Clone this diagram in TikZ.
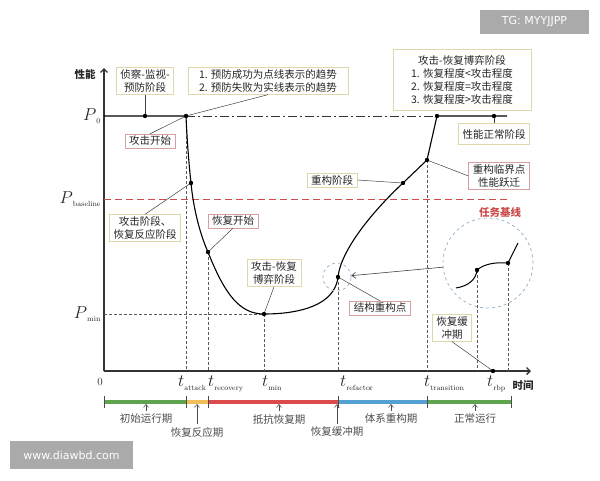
\documentclass[tikz,border=0pt]{standalone}
\usepackage{amsmath}
\usepackage{xcolor}
\usepackage{fontspec}
\usepackage{tikz}
\usetikzlibrary{arrows.meta}
\newfontfamily\cjk{Noto Sans CJK SC}
\newfontfamily\wmfont{DejaVu Sans}
\definecolor{boxyel}{RGB}{222,216,170}
\definecolor{boxpink}{RGB}{214,160,160}
\definecolor{basered}{RGB}{205,75,75}
\definecolor{ringblue}{RGB}{145,175,200}
\definecolor{tlgreen}{RGB}{95,165,80}
\definecolor{tlorange}{RGB}{240,190,90}
\definecolor{tlred}{RGB}{220,75,75}
\definecolor{tlblue}{RGB}{85,160,210}
\definecolor{wmgray}{RGB}{170,170,170}
\newcommand{\symsub}[2]{{\rmfamily\fontsize{16}{16}\selectfont$#1$\raisebox{-3.5pt}{\fontsize{7.5}{8}\selectfont #2}}}
\tikzset{
	ybox/.style={draw=boxyel, fill=white, line width=0.6pt, inner xsep=4pt, inner ysep=2pt, align=center},
	pbox/.style={ybox, draw=boxpink},
	lead/.style={black!75, line width=0.5pt},
	guide/.style={black!65, line width=0.6pt, dash pattern=on 3pt off 2pt},
	phase/.style={black!70, font=\cjk\fontsize{10.5}{12}\selectfont},
	boldcjk/.style={font=\cjk\bfseries\fontsize{10.5}{12}\selectfont},
	wmark/.style={fill=wmgray, text=white, font=\wmfont\fontsize{11}{12}\selectfont, inner sep=0pt}
}

\begin{document}
\begin{tikzpicture}[x=1pt, y=-1pt, font=\cjk\fontsize{10.5}{13}\selectfont, color=black!85]
	\useasboundingbox (0,0) rectangle (600,480);
	\coordinate (O) at (104,371);
	\coordinate (Ytop) at (104,68);
	\coordinate (Xend) at (531,371);
	\draw[line width=1.3pt, black!80, -{Straight Barb[length=3.5pt,width=7pt]}] (O) -- (Ytop);
	\draw[line width=1.3pt, black!80, -{Straight Barb[length=3.5pt,width=7pt]}] (O) -- (Xend);
	\node[boldcjk] (ylab) at (85,74) {性能};
	\node[boldcjk] (xlab) at (523,386) {时间};
	\node[font=\rmfamily\fontsize{11}{12}\selectfont] (zero) at (100,382) {0};

	\coordinate [label={left:\symsub{P}{0}}] (P0) at (104,116);
	\coordinate [label={left:\symsub{P}{baseline}}] (Pbase) at (104,199);
	\coordinate [label={left:\symsub{P}{min}}] (Pmin) at (104,314);
	\coordinate (baseend) at (507,199);
	\coordinate (normend) at (507,116);

	\coordinate (dwatch) at (145,116);
	\coordinate (dattack) at (186,116);
	\coordinate (dfall) at (191,183);
	\coordinate (drec) at (208,252);
	\coordinate (dmin) at (264,314);
	\coordinate (dref) at (338,277);
	\coordinate (drise) at (403,183);
	\coordinate (dtrans) at (427,160);
	\coordinate (dtop) at (437,116);
	\coordinate (dnorm) at (494,116);
	\coordinate (drbp) at (493,371);
	\coordinate (zstart) at (456,288);
	\coordinate (zone) at (477,270);
	\coordinate (ztwo) at (508,263);
	\coordinate (zend) at (518,243);

	\draw[basered, line width=0.8pt, dash pattern=on 7pt off 4pt] (Pbase) -- (baseend);
	\node[text=basered, boldcjk] (task) at (500,212) {任务基线};
	\draw[guide] (Pmin) -- (dmin);
	\foreach \d in {dattack, drec, dmin, dref, dtrans, zone, ztwo}
		\draw[guide] (\d) -- (\d |- O);
	\draw[black!80, line width=0.9pt, dash pattern=on 9pt off 3pt on 2pt off 3pt] (dattack) -- (dtop);

	\draw[line width=1.1pt, black] (P0) -- (dattack) .. controls (187,140) and (189,165) .. (dfall)
		.. controls (193,205) and (199,232) .. (drec) .. controls (225,295) and (240,314) .. (dmin)
		.. controls (300,314) and (335,305) .. (dref) .. controls (341,250) and (372,212) .. (drise)
		-- (dtrans) -- (dtop) -- (normend);
	\draw[line width=1pt, black] (zstart) .. controls (468,286) and (476,280) .. (zone)
		.. controls (484,264) and (495,262) .. (ztwo) -- (zend);

	\node[circle, draw=ringblue, dashed, line width=0.7pt, minimum size=90pt, inner sep=0pt] (zoomring) at (488,263) {};
	\node[circle, draw=ringblue, dashed, line width=0.7pt, minimum size=28pt, inner sep=0pt] (ring) at (337,277) {};
	\draw[black!75, line width=0.6pt, -{Straight Barb[length=4pt,width=6pt]}] (zoomring) -- (ring);

	\node[ybox] (watch) at (145,81) {侦察-监视-\\预防阶段};
	\node[ybox, minimum width=160pt] (note) at (268,81) {1. 预防成功为点线表示的趋势\\2. 预防失败为实线表示的趋势};
	\node[pbox] (start) at (150,141) {攻击开始};
	\node[ybox] (hit) at (145,228) {攻击阶段、\\恢复反应阶段};
	\node[pbox] (recbegin) at (233,221) {恢复开始};
	\node[ybox] (duel) at (274,273) {攻击-恢复\\博弈阶段};
	\node[pbox] (refpoint) at (380,308) {结构重构点};
	\node[ybox] (refstage) at (332,180) {重构阶段};
	\node[ybox, minimum width=138pt, minimum height=61pt] (duelnote) at (462,80) {攻击-恢复博弈阶段\\1. 恢复程度<攻击程度\\2. 恢复程度=攻击程度\\3. 恢复程度>攻击程度};
	\node[ybox, minimum height=21pt] (normal) at (494,134) {性能正常阶段};
	\node[pbox] (critical) at (499,176) {重构临界点\\性能跃迁};
	\node[ybox] (buffer) at (452,328) {恢复缓\\冲期};

	\draw[lead] (watch.south) -- (dwatch);
	\draw[lead] (note.south) -- (dattack);
	\draw[lead] (start.north) -- (dattack);
	\draw[lead] (hit.north) -- (dfall);
	\draw[lead] (recbegin.south) -- (drec);
	\draw[lead] (duel.south) -- (dmin);
	\draw[lead] (refpoint.north) -- (dref);
	\draw[lead] (refstage.east) -- (drise);
	\draw[lead] (normal.north) -- (dnorm);
	\draw[lead] (critical.west) -- (dtrans);
	\draw[lead] (buffer.south) -- (drbp);

	\foreach \d in {dwatch, dattack, dfall, drec, dmin, dref, drise, dtrans, dtop, dnorm, drbp, zone, ztwo}
		\fill[black] (\d) circle (2.2);

	\node[anchor=north west, inner sep=0pt] (tattack) at (178,376) {\symsub{t}{attack}};
	\node[anchor=north west, inner sep=0pt] (trecovery) at (208,376) {\symsub{t}{recovery}};
	\node[anchor=north west, inner sep=0pt] (tmin) at (262,376) {\symsub{t}{min}};
	\node[anchor=north west, inner sep=0pt] (trefactor) at (340,376) {\symsub{t}{refactor}};
	\node[anchor=north west, inner sep=0pt] (ttransition) at (424,376) {\symsub{t}{transition}};
	\node[anchor=north west, inner sep=0pt] (trbp) at (487,376) {\symsub{t}{rbp}};

	\foreach \a/\b/\c in {104/186/tlgreen, 186/208/tlorange, 208/338/tlred, 338/427/tlblue, 427/511/tlgreen}
		\draw[\c, line width=3.5pt] (\a,402) -- (\b,402);
	\foreach \x in {104,186,208,338,427,511}
		\draw[black!70, line width=0.6pt] (\x,396) -- (\x,408);
	\foreach \x/\y/\n/\t in {146/419/pinit/初始运行期, 197/432/preact/恢复反应期, 279/419/presist/抵抗恢复期, 337/432/pbuffer/恢复缓冲期, 391/419/prebuild/体系重构期, 475/419/pnormal/正常运行}{
		\node[phase] (\n) at (\x,\y) {\t};
		\coordinate (\n-tip) at (\x,404);
		\draw[phase, line width=0.6pt, -{Straight Barb[length=3pt,width=5pt]}] (\n.north) -- (\n-tip);
	}

	\node[wmark, minimum width=109pt, minimum height=24pt] (tg) at (534.5,22) {TG: MYYJJPP};
	\node[wmark, minimum width=123pt, minimum height=28pt] (site) at (71.5,455) {www.diawbd.com};
\end{tikzpicture}
\end{document}
